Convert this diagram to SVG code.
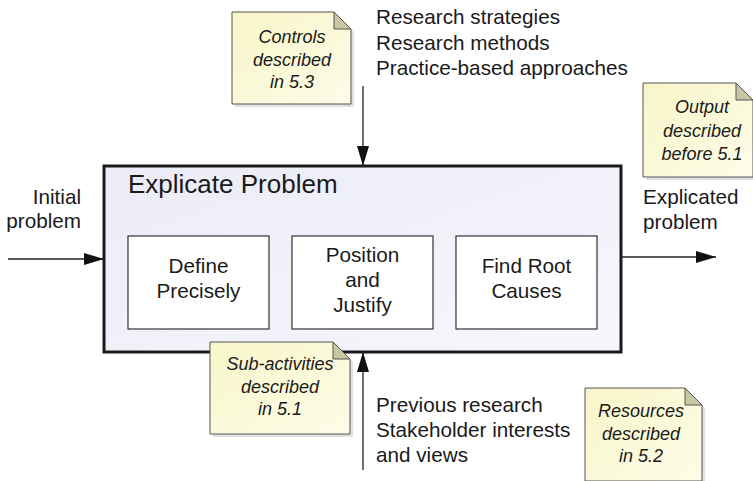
<svg xmlns="http://www.w3.org/2000/svg" width="753" height="481" viewBox="0 0 753 481">
  <defs>
    <linearGradient id="boxFill" x1="0" y1="0" x2="1" y2="1">
      <stop offset="0" stop-color="#ececf8"/>
      <stop offset="1" stop-color="#f6f6fc"/>
    </linearGradient>
    <linearGradient id="noteFill" x1="0" y1="0" x2="1" y2="1">
      <stop offset="0" stop-color="#f8f6c8"/>
      <stop offset="1" stop-color="#fdfce8"/>
    </linearGradient>
    <marker id="arrowBig" viewBox="0 0 20 12" refX="20" refY="6" markerWidth="20" markerHeight="12" markerUnits="userSpaceOnUse" orient="auto">
      <path d="M0,0 L20,6 L0,12 z" fill="#111"/>
    </marker>
  </defs>
  <style>
    text { font-family: "Liberation Sans", Arial, sans-serif; fill: #1a1a1a; }
    .label { font-size: 20.7px; }
    .title { font-size: 26px; }
    .noteText { font-size: 18px; font-style: italic; text-anchor: middle; }
    .mid { text-anchor: middle; }
    .sub { fill: #ffffff; stroke: #333; stroke-width: 1.2; }
    .note { fill: url(#noteFill); stroke: #555; stroke-width: 1; }
    .fold { fill: #c9c7a3; stroke: #555; stroke-width: 1; }
    .shadow { fill: #000; opacity: 0.12; }
    .conn { stroke: #222; stroke-width: 1.3; fill: none; }
  </style>

  <!-- main activity -->
  <g id="explicate-problem">
    <rect x="104" y="166" width="517" height="186" fill="url(#boxFill)" stroke="#1a1a1a" stroke-width="3"/>
    <text class="title" x="128" y="193">Explicate Problem</text>
  </g>

  <g id="define-precisely">
    <rect class="sub" x="128" y="236" width="141" height="93"/>
    <text class="label mid" x="198.5" y="273">Define</text>
    <text class="label mid" x="198.5" y="298">Precisely</text>
  </g>

  <g id="position-justify">
    <rect class="sub" x="292" y="236" width="141" height="93"/>
    <text class="label mid" x="362.5" y="262">Position</text>
    <text class="label mid" x="362.5" y="287">and</text>
    <text class="label mid" x="362.5" y="312">Justify</text>
  </g>

  <g id="find-root-causes">
    <rect class="sub" x="456" y="236" width="141" height="93"/>
    <text class="label mid" x="526.5" y="273">Find Root</text>
    <text class="label mid" x="526.5" y="298">Causes</text>
  </g>

  <!-- connectors: input, output, controls, resources -->
  <g id="connectors">
    <line class="conn" x1="8" y1="259" x2="104" y2="259" marker-end="url(#arrowBig)"/>
    <line class="conn" x1="621" y1="257" x2="716" y2="257" marker-end="url(#arrowBig)"/>
    <line class="conn" x1="363" y1="86" x2="363" y2="166" marker-end="url(#arrowBig)"/>
    <line class="conn" x1="363" y1="470" x2="363" y2="352" marker-end="url(#arrowBig)"/>
  </g>

  <!-- ICOM labels -->
  <g id="input-label">
    <text class="label" x="81" y="204" text-anchor="end">Initial</text>
    <text class="label" x="81" y="228" text-anchor="end">problem</text>
  </g>
  <g id="output-label">
    <text class="label" x="643" y="204">Explicated</text>
    <text class="label" x="643" y="229">problem</text>
  </g>
  <g id="control-label">
    <text class="label" x="376" y="24">Research strategies</text>
    <text class="label" x="376" y="49.5">Research methods</text>
    <text class="label" x="376" y="75">Practice-based approaches</text>
  </g>
  <g id="resource-label">
    <text class="label" x="376" y="412">Previous research</text>
    <text class="label" x="376" y="437">Stakeholder interests</text>
    <text class="label" x="376" y="462">and views</text>
  </g>

  <!-- annotation notes -->
  <g id="note-controls">
    <path class="shadow" d="M235,15 H337 L354,32 V107 H235 z"/>
    <path class="note" d="M232,12 H334 L351,29 V104 H232 z"/>
    <path class="fold" d="M334,12 L351,29 H334 z"/>
    <text class="noteText" x="292" y="43">Controls</text>
    <text class="noteText" x="292" y="65.5">described</text>
    <text class="noteText" x="292" y="88">in 5.3</text>
  </g>

  <g id="note-output">
    <path class="shadow" d="M646,86 H739 L756,103 V180 H646 z"/>
    <path class="note" d="M643,83 H736 L753,100 V177 H643 z"/>
    <path class="fold" d="M736,83 L753,100 H736 z"/>
    <text class="noteText" x="702" y="113">Output</text>
    <text class="noteText" x="702" y="137">described</text>
    <text class="noteText" x="702" y="160">before 5.1</text>
  </g>

  <g id="note-subactivities">
    <path class="shadow" d="M213,345 H336 L353,362 V437 H213 z"/>
    <path class="note" d="M210,342 H333 L350,359 V434 H210 z"/>
    <path class="fold" d="M333,342 L350,359 H333 z"/>
    <text class="noteText" x="280" y="370">Sub-activities</text>
    <text class="noteText" x="280" y="393">described</text>
    <text class="noteText" x="280" y="415">in 5.1</text>
  </g>

  <g id="note-resources">
    <path class="shadow" d="M588,391 H688 L705,408 V484 H588 z"/>
    <path class="note" d="M585,388 H685 L702,405 V481 H585 z"/>
    <path class="fold" d="M685,388 L702,405 H685 z"/>
    <text class="noteText" x="641" y="417">Resources</text>
    <text class="noteText" x="641" y="440">described</text>
    <text class="noteText" x="641" y="462">in 5.2</text>
  </g>
</svg>
